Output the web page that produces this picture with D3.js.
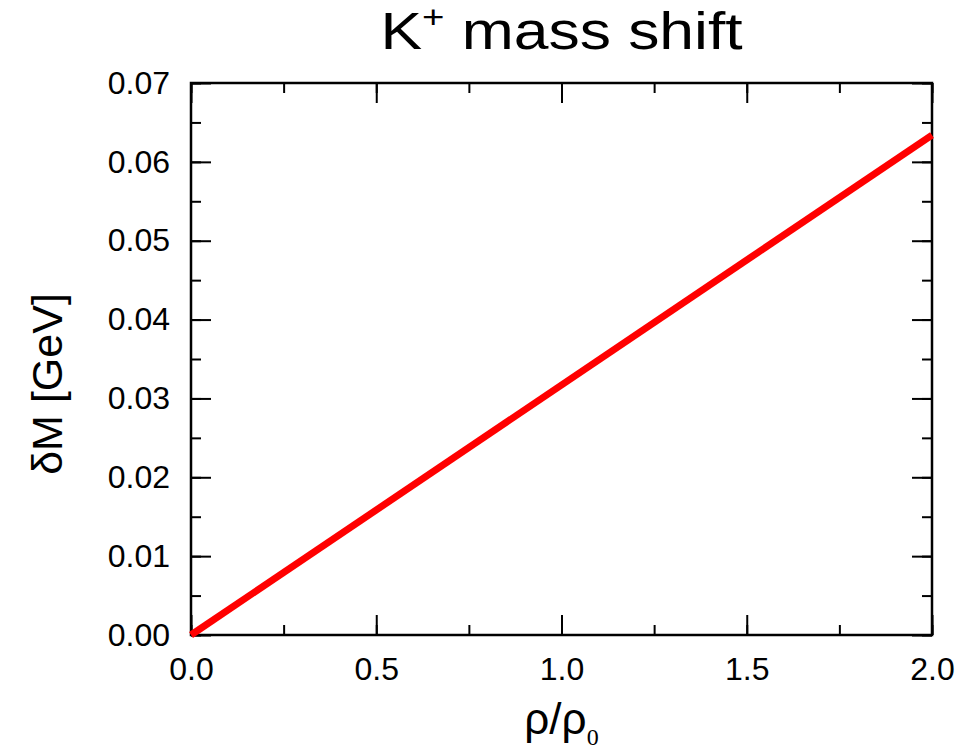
<!DOCTYPE html>
<html>
<head>
<meta charset="utf-8">
<script src="https://cdn.jsdelivr.net/npm/d3@7"></script>
<style>
  body { margin: 0; background: #fff; }
  text { font-family: "Liberation Sans", Arial, sans-serif; fill: #000; }
</style>
</head>
<body>
<div id="main"></div>
<script>
// line data: density ratio vs mass shift
const rho = [0.0, 2.0];
const deltaM = [0.0, 0.0634];

const xTicks = [0.0, 0.5, 1.0, 1.5, 2.0];
const yTicks = [0.00, 0.01, 0.02, 0.03, 0.04, 0.05, 0.06, 0.07];

const ctx = {
    width: 959,
    height: 755,
    left: 191,
    right: 932,
    top: 83,
    bottom: 635,
};

const x = d3.scaleLinear().domain([0, 2]).range([ctx.left, ctx.right]);
const y = d3.scaleLinear().domain([0, 0.07]).range([ctx.bottom, ctx.top]);

const svg = d3.select("#main").append("svg")
    .attr("width", ctx.width)
    .attr("height", ctx.height);

const fmtX = d3.format(".1f");
const fmtY = d3.format(".2f");

// minor ticks in between the labelled ones
const minorX = d3.range(0, 2.001, 0.25);
const minorY = d3.range(0, 0.0701, 0.005);

function addAxis(axis, tr) {
    const g = svg.append("g").attr("transform", tr).call(axis);
    g.select(".domain").remove();
    g.selectAll("line").attr("stroke", "#000").attr("stroke-width", 2);
    return g;
}

// bottom
addAxis(d3.axisBottom(x).tickValues(minorX).tickSize(-10).tickFormat(""), `translate(0,${ctx.bottom})`);
addAxis(d3.axisBottom(x).tickValues(xTicks).tickSize(-20).tickFormat(fmtX).tickPadding(22), `translate(0,${ctx.bottom})`)
    .selectAll("text").attr("font-size", 32);
// top
addAxis(d3.axisTop(x).tickValues(minorX).tickSize(-10).tickFormat(""), `translate(0,${ctx.top})`);
addAxis(d3.axisTop(x).tickValues(xTicks).tickSize(-20).tickFormat(""), `translate(0,${ctx.top})`);
// left
addAxis(d3.axisLeft(y).tickValues(minorY).tickSize(-10).tickFormat(""), `translate(${ctx.left},0)`);
addAxis(d3.axisLeft(y).tickValues(yTicks).tickSize(-20).tickFormat(fmtY).tickPadding(21), `translate(${ctx.left},0)`)
    .selectAll("text").attr("font-size", 32);
// right
addAxis(d3.axisRight(y).tickValues(minorY).tickSize(-10).tickFormat(""), `translate(${ctx.right},0)`);
addAxis(d3.axisRight(y).tickValues(yTicks).tickSize(-20).tickFormat(""), `translate(${ctx.right},0)`);

svg.append("rect")
    .attr("x", ctx.left).attr("y", ctx.top)
    .attr("width", ctx.right - ctx.left).attr("height", ctx.bottom - ctx.top)
    .attr("fill", "none").attr("stroke", "#000").attr("stroke-width", 2.5);

// the line
const pts = rho.map((r, i) => [r, deltaM[i]]);
svg.append("path")
    .datum(pts)
    .attr("fill", "none")
    .attr("stroke", "#ff0000")
    .attr("stroke-width", 7)
    .attr("d", d3.line().x(d => x(d[0])).y(d => y(d[1])));

// title (slightly wide lettering as in the original)
const cx = (ctx.left + ctx.right) / 2;
const title = svg.append("text")
    .attr("transform", `translate(${cx},49) scale(1.2,1)`)
    .attr("text-anchor", "middle").attr("font-size", 52);
title.append("tspan").text("K");
title.append("tspan").attr("font-size", 32).attr("dy", -21).text("+");
title.append("tspan").attr("dy", 21).text(" mass shift");

// x label
const xl = svg.append("text")
    .attr("x", cx).attr("y", 734)
    .attr("text-anchor", "middle").attr("font-size", 44);
xl.append("tspan").text("ρ/ρ");
xl.append("tspan").attr("font-family", "Liberation Serif").attr("font-size", 24).attr("dy", 11).text("0");

// y label
svg.append("text")
    .attr("transform", `translate(62,384) rotate(-90)`)
    .attr("text-anchor", "middle").attr("font-size", 43)
    .text("δM [GeV]");
</script>
</body>
</html>
